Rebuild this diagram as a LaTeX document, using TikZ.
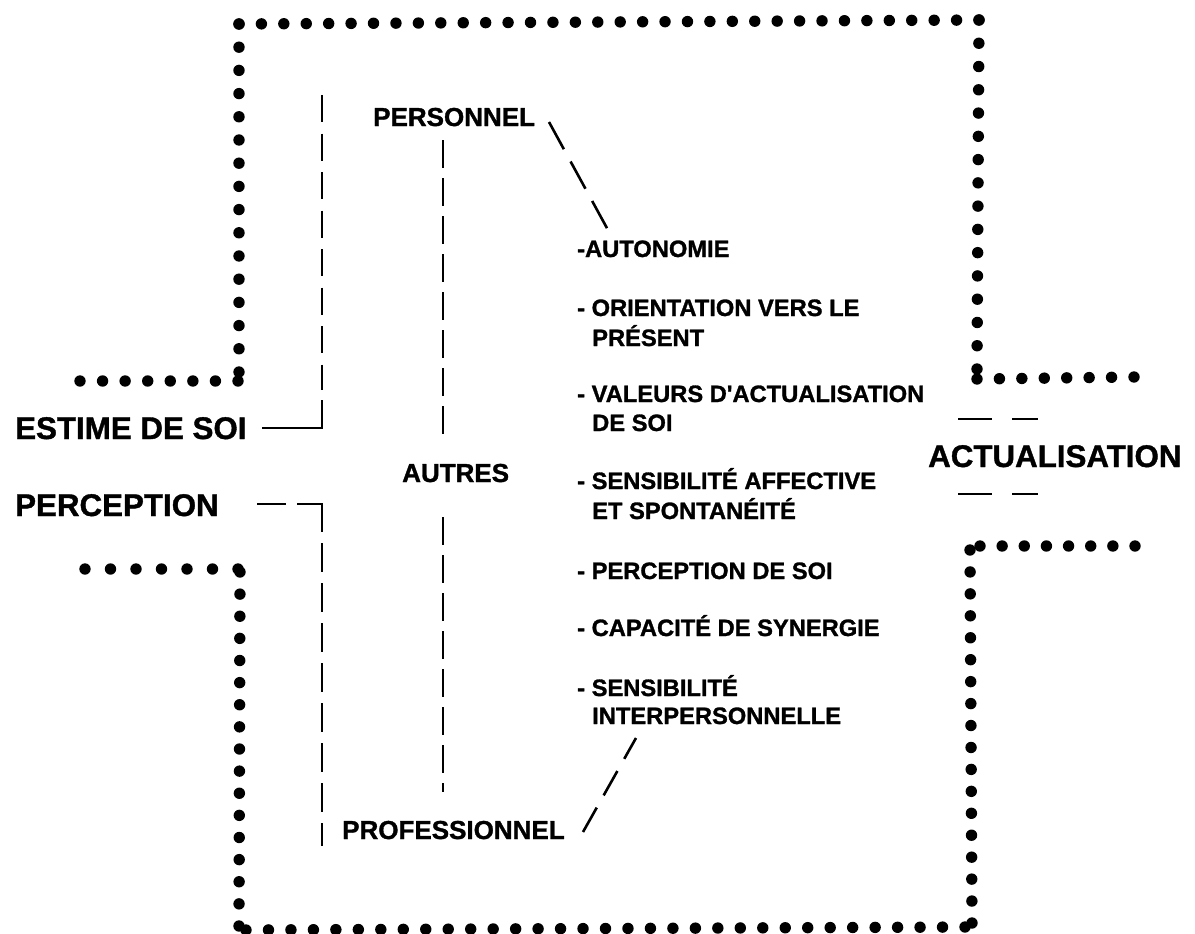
\documentclass[tikz,border=0pt]{standalone}
\usepackage{fontspec}
\setmainfont{Liberation Sans}[Ligatures=TeXOff, BoldFeatures={FakeBold=1.2}]
\usetikzlibrary{calc}
\newcommand{\dotrow}[3]{\foreach \i in {0,...,#3}{\fill ($#1!\i/#3!#2$) circle[radius=5.7pt];}}
\tikzset{
  big/.style={font=\fontsize{31.3}{36}\selectfont\bfseries, inner sep=0pt, anchor=base west},
  mid/.style={font=\fontsize{26}{30}\selectfont\bfseries, inner sep=0pt, anchor=base west},
  item/.style={font=\fontsize{23.7}{30}\selectfont\bfseries, inner sep=0pt, anchor=base west},
  ln/.style={line width=2.6pt},
  dln/.style={line width=2.6pt, dash pattern=on 27pt off 11.5pt},
}
\begin{document}
\begin{tikzpicture}[x=1pt,y=-1pt]
\useasboundingbox (0,0) rectangle (1195,934);
% dotted frame
\dotrow{(239,24)}{(979,20)}{33}
\dotrow{(979,20)}{(977,369)}{15}
\dotrow{(977,379)}{(1134,377)}{7}
\dotrow{(239,24)}{(239,372)}{15}
\dotrow{(238,381)}{(80,381)}{7}
\dotrow{(238,569)}{(85,569)}{6}
\dotrow{(240,572)}{(239,926)}{16}
\dotrow{(246,930)}{(965,927)}{32}
\dotrow{(980,546)}{(1135,546)}{7}
\dotrow{(970,550)}{(972,923)}{17}
% labels
\node[big] (estime) at (15,439) {ESTIME DE SOI};
\node[big] (perc) at (15,516) {PERCEPTION};
\node[big] (actu) at (928,467) {ACTUALISATION};
\node[mid] (perso) at (373,126) {PERSONNEL};
\node[mid] (autres) at (402,482) {AUTRES};
\node[mid] (profe) at (342,839) {PROFESSIONNEL};
% list
\node[item] (l1) at (577,257) {-AUTONOMIE};
\node[item] (l2) at (577,316) {- ORIENTATION VERS LE};
\node[item] (l2b) at (592,346) {PRÉSENT};
\node[item] (l3) at (577,402) {- VALEURS D'ACTUALISATION};
\node[item] (l3b) at (592,431) {DE SOI};
\node[item] (l4) at (577,489) {- SENSIBILITÉ AFFECTIVE};
\node[item] (l4b) at (592,519) {ET SPONTANÉITÉ};
\node[item] (l5) at (577,579) {- PERCEPTION DE SOI};
\node[item] (l6) at (577,636) {- CAPACITÉ DE SYNERGIE};
\node[item] (l7) at (577,696) {- SENSIBILITÉ};
\node[item] (l7b) at (592,724) {INTERPERSONNELLE};
% connectors
\coordinate (e1) at (262,428);
\coordinate (e2) at (322,428);
\coordinate (e3) at (322,400);
\coordinate (e4) at (322,390);
\coordinate (e5) at (322,95);
\draw[ln] (e1) -- (e2) -- (e3);
\draw[dln] (e5) -- (e4);
\coordinate (p1) at (257,504);
\coordinate (p2) at (286,504);
\coordinate (p3) at (297,504);
\coordinate (p4) at (322,504);
\coordinate (p5) at (322,532);
\coordinate (p6) at (322,543);
\coordinate (p7) at (322,846);
\draw[ln] (p1) -- (p2);
\draw[ln] (p3) -- (p4) -- (p5);
\draw[ln, dash pattern=on 29pt off 11pt] (p6) -- (p7);
\coordinate (i1) at (443,140);
\coordinate (i2) at (443,434);
\coordinate (i3) at (443,517);
\coordinate (i4) at (443,792);
\draw[ln, dash pattern=on 28pt off 10pt] (i1) -- (i2);
\draw[ln, dash pattern=on 28pt off 10pt] (i3) -- (i4);
\coordinate (s1) at (549,122);
\coordinate (s2) at (608,230);
\draw[ln, dash pattern=on 31pt off 14pt] (s1) -- (s2);
\coordinate (t1) at (583,832);
\coordinate (t2) at (636,738);
\draw[ln, dash pattern=on 28pt off 14pt] (t1) -- (t2);
\coordinate (a1) at (958,419);
\coordinate (a2) at (1038,419);
\coordinate (a3) at (958,494);
\coordinate (a4) at (1038,494);
\draw[ln, dash pattern=on 34pt off 20pt] (a1) -- (a2);
\draw[ln, dash pattern=on 34pt off 20pt] (a3) -- (a4);
\end{tikzpicture}
\end{document}
